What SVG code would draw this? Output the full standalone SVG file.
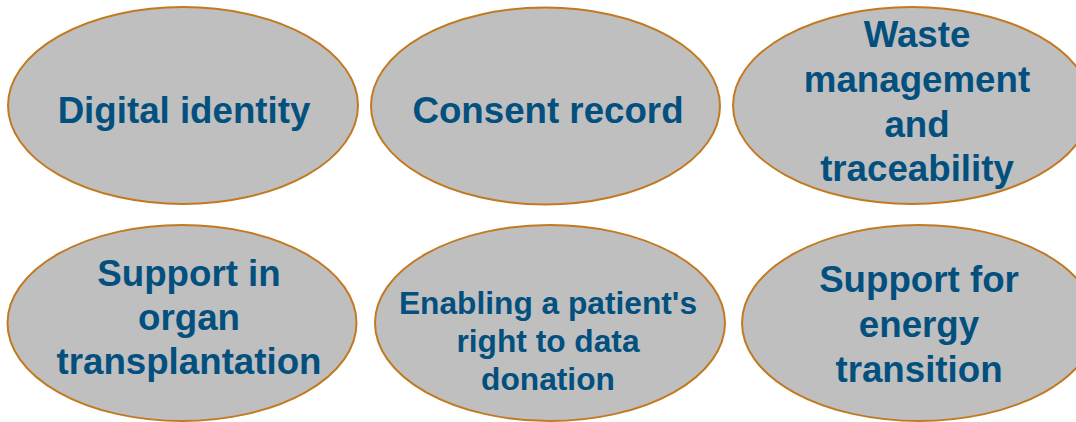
<svg xmlns="http://www.w3.org/2000/svg" width="1076" height="422" viewBox="0 0 1076 422">
<style>
.n ellipse{fill:#bfbfbf;stroke:#c27a20;stroke-width:2}
.n text{font-family:"Liberation Sans",Arial,sans-serif;font-weight:bold;fill:#03507f;text-anchor:middle;font-size:36.7px}
.n text.s{font-size:31.7px}
</style>
<rect width="1076" height="422" fill="#ffffff"/>
<g id="connectors"></g>
<g id="digital-identity" class="n">
<ellipse cx="183" cy="105.5" rx="175" ry="98.5"/>
<text x="184" y="123">Digital identity</text>
</g>
<g id="consent-record" class="n">
<ellipse cx="545.5" cy="106" rx="174.5" ry="98.5"/>
<text x="548" y="123">Consent record</text>
</g>
<g id="waste-management" class="n">
<ellipse cx="912" cy="105.5" rx="179" ry="98.5"/>
<text x="917" y="47">Waste</text>
<text x="917" y="92">management</text>
<text x="917" y="137">and</text>
<text x="917" y="181">traceability</text>
</g>
<g id="organ-transplantation" class="n">
<ellipse cx="182" cy="323" rx="174.5" ry="98"/>
<text x="189" y="286">Support in</text>
<text x="189" y="330">organ</text>
<text x="189" y="374">transplantation</text>
</g>
<g id="data-donation" class="n">
<ellipse cx="550" cy="323" rx="175" ry="98"/>
<text class="s" x="548" y="314">Enabling a patient's</text>
<text class="s" x="548" y="352">right to data</text>
<text class="s" x="548" y="390">donation</text>
</g>
<g id="energy-transition" class="n">
<ellipse cx="919" cy="323" rx="177" ry="98"/>
<text x="919" y="292">Support for</text>
<text x="919" y="337">energy</text>
<text x="919" y="382">transition</text>
</g>
</svg>
